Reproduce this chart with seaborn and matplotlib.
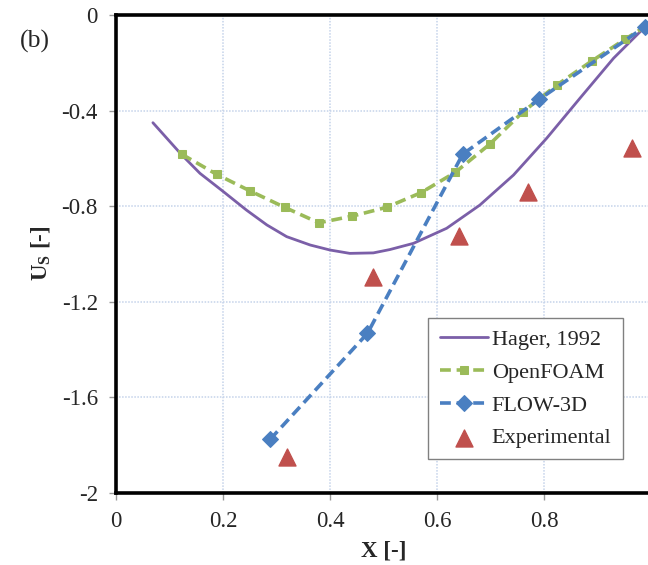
import numpy as np
import pandas as pd
import matplotlib
matplotlib.use("Agg")
import matplotlib.pyplot as plt
import seaborn as sns

# ---- data ----
hager_x = [0.069, 0.095, 0.123, 0.157, 0.201, 0.244, 0.282, 0.319, 0.363, 0.400, 0.437, 0.481,
           0.512, 0.556, 0.618, 0.680, 0.743, 0.805, 0.867, 0.930, 0.986]
hager_y = [-0.451, -0.516, -0.586, -0.663, -0.740, -0.817, -0.879, -0.928, -0.963, -0.984, -0.998, -0.996,
           -0.982, -0.956, -0.893, -0.796, -0.670, -0.516, -0.349, -0.181, -0.056]

foam_x = [0.123, 0.188, 0.250, 0.315, 0.379, 0.442, 0.506, 0.570, 0.634, 0.699, 0.760, 0.824, 0.889, 0.951, 0.989]
foam_y = [-0.583, -0.667, -0.736, -0.805, -0.870, -0.842, -0.805, -0.744, -0.659, -0.540, -0.407, -0.293, -0.193, -0.102, -0.049]

flow_x = [0.288, 0.470, 0.648, 0.791, 0.989]
flow_y = [-1.777, -1.333, -0.583, -0.353, -0.049]

exp_x = [0.320, 0.481, 0.642, 0.771, 0.964]
exp_y = [-1.850, -1.096, -0.925, -0.740, -0.558]

x_ticks = [0, 0.2, 0.4, 0.6, 0.8]
x_ticklabels = ["0", "0.2", "0.4", "0.6", "0.8"]
y_ticks = [0, -0.4, -0.8, -1.2, -1.6, -2]
y_ticklabels = ["0", "-0.4", "-0.8", "-1.2", "-1.6", "-2"]

sns.set_style("white")
plt.rcParams["font.family"] = ["Liberation Serif", "DejaVu Serif"]
plt.rcParams["mathtext.fontset"] = "custom"
plt.rcParams["mathtext.rm"] = "Liberation Serif"
plt.rcParams["mathtext.bf"] = "Liberation Serif:bold"

fig = plt.figure(figsize=(6.48, 5.65), dpi=100)
ax = fig.add_axes([116/648, 72.3/565, 535/648, 477.7/565])

purple = "#7B5FA8"
green = "#9BBB59"
blue = "#4A7FC1"
red = "#C0504D"

sns.lineplot(x=hager_x, y=hager_y, ax=ax, color=purple, lw=2.0, label="Hager, 1992", sort=False)
sns.lineplot(x=foam_x, y=foam_y, ax=ax, color=green, lw=2.6, marker="s", markersize=6,
             markeredgecolor=green, label="OpenFOAM", sort=False, linestyle=(0, (3, 1.6)))
sns.lineplot(x=flow_x, y=flow_y, ax=ax, color=blue, lw=2.6, marker="D", markersize=8,
             markeredgecolor=blue, label="FLOW-3D", sort=False, linestyle=(0, (3, 1.6)))
sns.scatterplot(x=exp_x, y=exp_y, ax=ax, color=red, marker="^", s=150, edgecolor=red,
                label="Experimental", zorder=5)

ax.set_xlim(0, 1.0)
ax.set_ylim(-2, 0)
ax.set_xticks(x_ticks)
ax.set_xticklabels(x_ticklabels)
ax.set_yticks(y_ticks)
ax.set_yticklabels(y_ticklabels)
ax.tick_params(axis="both", labelsize=16.5, length=5, width=1, color="#999999",
               direction="out", pad=8, bottom=True, left=True)
ax.grid(True, color="#C5D3EA", linestyle=(0, (1, 1)), lw=1.1)
ax.set_axisbelow(True)

for s in ["left", "bottom", "top"]:
    ax.spines[s].set_color("black")
    ax.spines[s].set_linewidth(2.6)
ax.spines["right"].set_visible(False)

ax.set_xlabel("X [-]", fontsize=16.5, fontweight="bold", labelpad=6)
ax.set_ylabel(r"U$_\mathregular{S}$ [-]", fontsize=16.5, fontweight="bold", labelpad=6)

fig.text(20/648, 1 - 48/565, "(b)", fontsize=18.5)

leg = ax.legend(loc="upper left", bbox_to_anchor=(0.584, 0.365), fontsize=16,
                frameon=True, fancybox=False, edgecolor="#808080", framealpha=1,
                handlelength=2.2, handletextpad=0.15, labelspacing=0.55,
                borderpad=0.5, borderaxespad=0)
leg.get_frame().set_linewidth(1.0)

fig.savefig("out.png", dpi=100)
